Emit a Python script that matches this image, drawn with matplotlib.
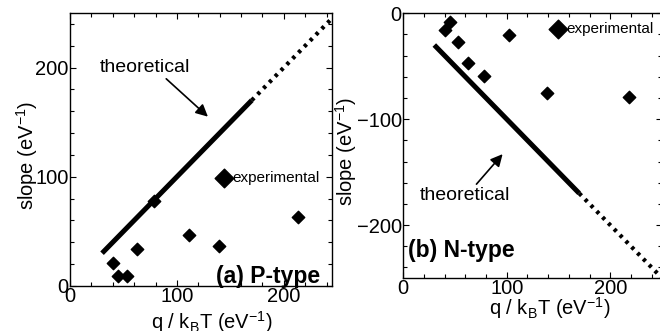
import matplotlib.pyplot as plt
from matplotlib.ticker import MultipleLocator

plt.rcParams['font.family'] = ['Liberation Sans', 'DejaVu Sans']

# theoretical line: slope = +/- q/kT
theory_x = [30, 170, 250]

# experimental points
p_x = [40, 45, 53, 62.5, 79, 111, 139, 213]
p_y = [21, 9, 9, 34, 78, 47, 37, 63]
n_x = [40, 45, 53, 62.5, 78, 102, 139, 218]
n_y = [-16, -8, -27, -47, -59, -21, -75, -79]

fig = plt.figure(figsize=(6.6, 3.31), dpi=100)
ax1 = fig.add_axes([0.106, 0.136, 0.397, 0.825])
ax2 = fig.add_axes([0.611, 0.160, 0.392, 0.800])


def style(ax):
    ax.xaxis.set_major_locator(MultipleLocator(100))
    ax.xaxis.set_minor_locator(MultipleLocator(20))
    ax.yaxis.set_major_locator(MultipleLocator(100))
    ax.yaxis.set_minor_locator(MultipleLocator(20))
    ax.tick_params(which='both', direction='in', top=True, right=True,
                   labelsize=14.5, width=0.8, pad=1)
    ax.tick_params(which='major', length=4)
    ax.tick_params(which='minor', length=3)
    for s in ax.spines.values():
        s.set_linewidth(1)
    ax.set_xlabel('q / k$_\\mathregular{B}$T (eV$^{\\mathregular{-1}}$)', fontsize=14.5)
    ax.set_ylabel('slope (eV$^{\\mathregular{-1}}$)', fontsize=14.5)


# (a) P-type
tx = theory_x
ax1.plot(tx[:2], tx[:2], color='black', lw=3.6, solid_capstyle='butt')
ax1.plot(tx[1:], tx[1:], color='black', lw=3, ls=(0, (0.8, 1.2)))
ax1.scatter(p_x, p_y, marker='D', s=40, color='black', zorder=3)
ax1.scatter([144], [99], marker='D', s=90, color='black')
ax1.text(152, 99, 'experimental', fontsize=11, va='center')
ax1.annotate('theoretical', xy=(129, 155), xytext=(28, 200), fontsize=14,
             va='center', arrowprops=dict(arrowstyle='-|>', color='black', lw=1.2,
                                          mutation_scale=18, shrinkA=0, shrinkB=0,
                                          relpos=(0.7, 0)))
ax1.text(234, 9, '(a) P-type', fontsize=16.5, fontweight='bold', ha='right', va='center')
ax1.set_xlim(0, 245)
ax1.set_ylim(0, 250)
style(ax1)
ax1.xaxis.set_label_coords(0.54, -0.085)
ax1.yaxis.set_label_coords(-0.115, 0.48)

# (b) N-type
ax2.plot(tx[:2], [-v for v in tx[:2]], color='black', lw=3.6, solid_capstyle='butt')
ax2.plot(tx[1:], [-v for v in tx[1:]], color='black', lw=3, ls=(0, (0.8, 1.2)))
ax2.scatter(n_x, n_y, marker='D', s=40, color='black', zorder=3)
ax2.scatter([150], [-15], marker='D', s=90, color='black')
ax2.text(158, -15, 'experimental', fontsize=11, va='center', clip_on=False)
ax2.annotate('theoretical', xy=(96, -133), xytext=(16, -172), fontsize=14,
             va='center', arrowprops=dict(arrowstyle='-|>', color='black', lw=1.2,
                                          mutation_scale=18, shrinkA=0, shrinkB=0,
                                          relpos=(0.6, 1)))
ax2.text(5, -224, '(b) N-type', fontsize=16.5, fontweight='bold', ha='left', va='center')
ax2.set_xlim(0, 250)
ax2.set_ylim(-250, 0)
style(ax2)
ax2.xaxis.set_label_coords(0.565, -0.065)
ax2.yaxis.set_label_coords(-0.17, 0.48)

fig.savefig('out.png', dpi=100)
